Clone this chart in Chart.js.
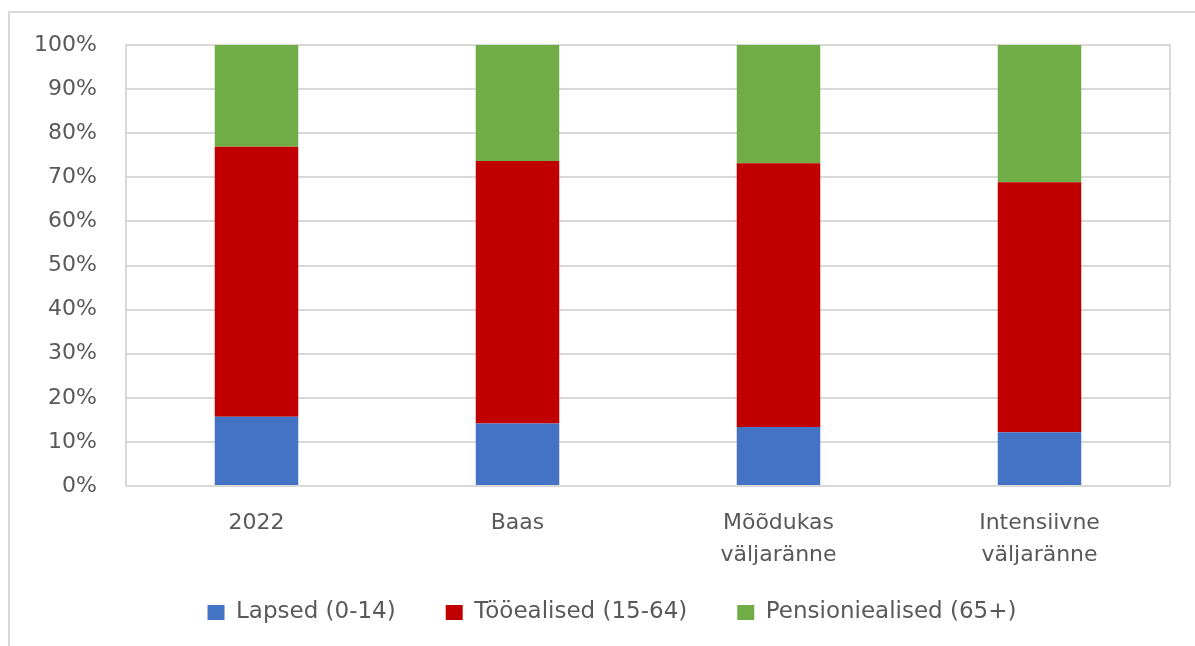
<!DOCTYPE html>
<html>
<head>
<meta charset="utf-8">
<script src="https://cdn.jsdelivr.net/npm/chart.js@4.4.1/dist/chart.umd.min.js"></script>
<style>
  html, body { margin: 0; padding: 0; background: #fff; overflow: hidden; }
  .frame { position: absolute; left: 8px; top: 11px; width: 1300px; height: 700px; border: 2px solid #d9d9d9; }
  .wrap { position: absolute; left: 0; top: 0; width: 1195px; height: 646px; }
</style>
</head>
<body>
<div class="frame"></div>
<div class="wrap"><canvas id="popChart" width="1195" height="646"></canvas></div>
<script>
// scenario categories
const categories = ['2022', 'Baas', ['Mõõdukas', 'väljaränne'], ['Intensiivne', 'väljaränne']];

// shares of population, %
const lapsed = [15.7, 14.2, 13.4, 12.2];
const tooealised = [61.2, 59.5, 59.8, 56.7];
const pensioniealised = [23.1, 26.3, 26.8, 31.1];

const yTicks = [0, 10, 20, 30, 40, 50, 60, 70, 80, 90, 100];

const textColor = '#595959';
const gridColor = '#d9d9d9';

// right border of the plot area + legend placement tweak
const plotFrame = {
    id: 'plotFrame',
    afterLayout(chart) {
        const legend = chart.legend;
        legend.left += 44;
        legend.top = 551;
    },
    beforeDatasetsDraw(chart) {
        const { ctx, chartArea } = chart;
        ctx.save();
        ctx.strokeStyle = gridColor;
        ctx.lineWidth = 2;
        ctx.beginPath();
        ctx.moveTo(chartArea.right, chartArea.top - 1);
        ctx.lineTo(chartArea.right, chartArea.bottom + 1);
        ctx.stroke();
        ctx.restore();
    }
};

const ctx = document.getElementById('popChart').getContext('2d');

new Chart(ctx, {
    type: 'bar',
    data: {
        labels: categories,
        datasets: [
            { label: 'Lapsed (0-14)', data: lapsed, backgroundColor: '#4472C4' },
            { label: 'Tööealised (15-64)', data: tooealised, backgroundColor: '#C00000' },
            { label: 'Pensioniealised (65+)', data: pensioniealised, backgroundColor: '#70AD47' }
        ]
    },
    options: {
        responsive: false,
        animation: false,
        devicePixelRatio: 1,
        layout: {
            padding: { left: 10, right: 25, top: 45, bottom: 12 }
        },
        datasets: {
            bar: {
                barPercentage: 0.32,
                categoryPercentage: 1.0
            }
        },
        plugins: {
            legend: {
                position: 'bottom',
                maxHeight: 58,
                labels: {
                    boxWidth: 17,
                    boxHeight: 15,
                    padding: 50,
                    color: textColor,
                    font: { family: 'DejaVu Sans', size: 23 }
                }
            },
            tooltip: { enabled: false }
        },
        scales: {
            x: {
                stacked: true,
                grid: { display: false },
                border: { display: false },
                ticks: {
                    color: textColor,
                    padding: 13,
                    maxRotation: 0,
                    autoSkip: false,
                    font: { family: 'DejaVu Sans', size: 22, lineHeight: 1.45 }
                },
                afterFit(scale) { scale.height = 90; }
            },
            y: {
                stacked: true,
                min: 0,
                max: 100,
                grid: { color: gridColor, lineWidth: 2, drawTicks: false },
                border: { display: true, color: gridColor, width: 2 },
                afterBuildTicks(scale) {
                    scale.ticks = yTicks.map(v => ({ value: v }));
                },
                ticks: {
                    color: textColor,
                    padding: 29,
                    font: { family: 'DejaVu Sans', size: 22 },
                    callback: v => v + '%'
                },
                afterFit(scale) { scale.width = 116; }
            }
        }
    },
    plugins: [plotFrame]
});
</script>
</body>
</html>
